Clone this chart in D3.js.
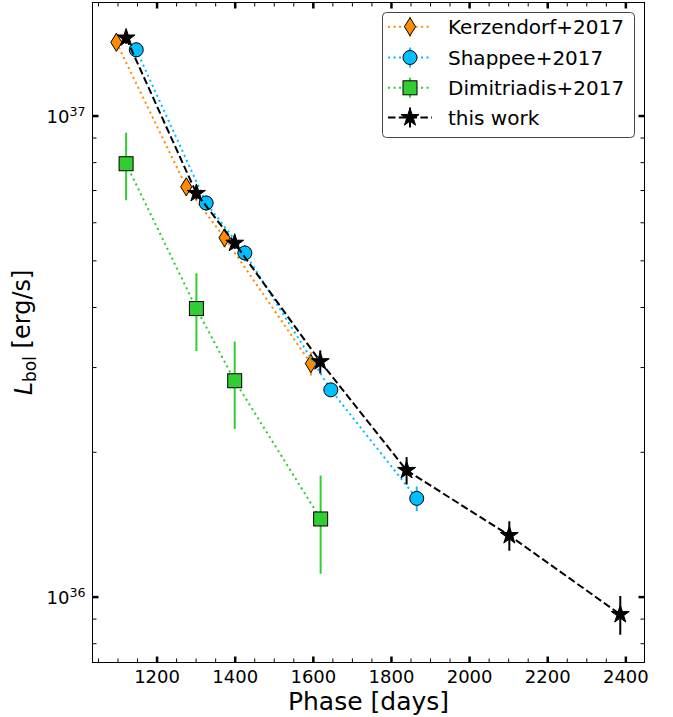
<!DOCTYPE html>
<html><head><meta charset="utf-8">
<script src="https://cdn.jsdelivr.net/npm/d3@7"></script>
<style>
body{margin:0;background:#fff}
svg{display:block;font-family:'DejaVu Sans',sans-serif}
</style>
</head><body>
<svg id="c" width="673" height="717"></svg>
<script>
// ---- data ----
const kerzPhase = [1097, 1276, 1374, 1595];
const kerzLum   = [1.42e37, 7.11e36, 5.57e36, 3.05e36];
const kerzErr   = [0.06e37, 0.30e36, 0.25e36, 0.17e36];

const shapPhase = [1148, 1327, 1426, 1646, 1866];
const shapLum   = [1.37e37, 6.58e36, 5.18e36, 2.69e36, 1.60e36];
const shapErr   = [0.05e37, 0.25e36, 0.20e36, 0.08e36, 0.094e36];

const dimiPhase = [1122, 1302, 1400, 1620];
const dimiLum   = [7.94e36, 3.97e36, 2.81e36, 1.45e36];
const dimiErr   = [1.27e36, 0.73e36, 0.58e36, 0.335e36];

const workPhase = [1122, 1302, 1400, 1619, 1840, 2103, 2387];
const workLum   = [1.45e37, 6.89e36, 5.43e36, 3.08e36, 1.83e36, 1.34e36, 9.18e35];
const workErr   = [0.04e37, 0.20e36, 0.15e36, 0.17e36, 0.12e36, 0.095e36, 0.085e36];

const seriesNames = ["Kerzendorf+2017", "Shappee+2017", "Dimitriadis+2017", "this work"];
const xMajorTicks = [1200, 1400, 1600, 1800, 2000, 2200, 2400];
const xMinorTicks = d3.range(1050, 2450, 50).filter(v => v % 200 !== 0);
const yMajorTicks = [1e36, 1e37];
const yTickExp    = ["36", "37"];
const yMinorTicks = [8e35, 9e35, 2e36, 3e36, 4e36, 5e36, 6e36, 7e36, 8e36, 9e36];
const xDomain = [1036, 2449];
const yDomain = [Math.pow(10, 35.863), Math.pow(10, 37.235)];

// ---- layout ----
const L = 92.5, R = 644.5, T = 2.5, B = 662.5;
const svg = d3.select("#c");
const x = d3.scaleLinear().domain(xDomain).range([L, R]);
const y = d3.scaleLog().domain(yDomain).range([B, T]);

const series = [
  {name: seriesNames[0], px: kerzPhase, ly: kerzLum, e: kerzErr, color: "#ff8c00", dash: "2.1,3.4", sym: "thindiamond"},
  {name: seriesNames[1], px: shapPhase, ly: shapLum, e: shapErr, color: "#00bfff", dash: "2.1,3.4", sym: "circle"},
  {name: seriesNames[2], px: dimiPhase, ly: dimiLum, e: dimiErr, color: "#32cd32", dash: "2.1,3.4", sym: "square"},
  {name: seriesNames[3], px: workPhase, ly: workLum, e: workErr, color: "#000000", dash: "7.5,3.3", sym: "star"}
];

function drawMarker(g, sym, cx, cy, color) {
  if (sym === "thindiamond") {
    g.append("path").attr("d", `M${cx},${cy-9}L${cx+5.6},${cy}L${cx},${cy+9}L${cx-5.6},${cy}Z`)
      .attr("fill", color).attr("stroke", "#000").attr("stroke-width", 1);
  } else if (sym === "circle") {
    g.append("circle").attr("cx", cx).attr("cy", cy).attr("r", 7)
      .attr("fill", color).attr("stroke", "#000").attr("stroke-width", 1);
  } else if (sym === "square") {
    g.append("rect").attr("x", cx-7).attr("y", cy-7).attr("width", 14).attr("height", 14)
      .attr("fill", color).attr("stroke", "#000").attr("stroke-width", 1);
  } else {
    g.append("path").attr("d", d3.symbol(d3.symbolStar, 100)())
      .attr("transform", `translate(${cx},${cy})`)
      .attr("fill", "#000").attr("stroke", "#000").attr("stroke-width", 1);
  }
}

const clip = svg.append("clipPath").attr("id", "clip").append("rect")
  .attr("x", L).attr("y", T).attr("width", R-L).attr("height", B-T);
const plot = svg.append("g").attr("clip-path", "url(#clip)");

series.forEach(s => {
  const g = plot.append("g");
  const pts = s.px.map((p, i) => ({x: p, y: s.ly[i], e: s.e[i]}));
  g.selectAll("line.err").data(pts).enter().append("line")
    .attr("x1", d => x(d.x)).attr("x2", d => x(d.x))
    .attr("y1", d => y(d.y + d.e)).attr("y2", d => y(d.y - d.e))
    .attr("stroke", s.color).attr("stroke-width", 2);
  g.append("path").datum(pts)
    .attr("d", d3.line().x(d => x(d.x)).y(d => y(d.y)))
    .attr("fill", "none").attr("stroke", s.color).attr("stroke-width", 2)
    .attr("stroke-dasharray", s.dash);
  pts.forEach(d => drawMarker(g, s.sym, x(d.x), y(d.y), s.color));
});

// ---- axes (inward ticks on all sides) ----
function styleTicks(g, w) {
  g.select(".domain").remove();
  g.selectAll(".tick line").attr("stroke", "#000").attr("stroke-width", w);
}
const gxb = svg.append("g").attr("transform", `translate(0,${B})`)
  .call(d3.axisBottom(x).tickValues(xMajorTicks).tickSizeInner(-6).tickSizeOuter(0).tickPadding(8).tickFormat(d3.format("d")));
styleTicks(gxb, 2.5);
gxb.selectAll(".tick text").attr("font-size", "18px").attr("font-family", "DejaVu Sans").attr("fill", "#000");
const gxbm = svg.append("g").attr("transform", `translate(0,${B})`)
  .call(d3.axisBottom(x).tickValues(xMinorTicks).tickSizeInner(-4).tickSizeOuter(0).tickFormat(""));
styleTicks(gxbm, 1);
const gxt = svg.append("g").attr("transform", `translate(0,${T})`)
  .call(d3.axisTop(x).tickValues(xMajorTicks).tickSizeInner(-6).tickSizeOuter(0).tickFormat(""));
styleTicks(gxt, 2.5);
const gxtm = svg.append("g").attr("transform", `translate(0,${T})`)
  .call(d3.axisTop(x).tickValues(xMinorTicks).tickSizeInner(-4).tickSizeOuter(0).tickFormat(""));
styleTicks(gxtm, 1);
const gyl = svg.append("g").attr("transform", `translate(${L},0)`)
  .call(d3.axisLeft(y).tickValues(yMajorTicks).tickSizeInner(-6).tickSizeOuter(0).tickPadding(7));
styleTicks(gyl, 2.5);
gyl.selectAll(".tick text").each(function(d, i) {
  const t = d3.select(this);
  t.text("").attr("font-size", "18px").attr("font-family", "DejaVu Sans").attr("fill", "#000").attr("dy", "0.36em");
  t.append("tspan").text("10");
  t.append("tspan").attr("dy", "-0.55em").attr("font-size", "12.6px").text(yTickExp[i]);
});
const gylm = svg.append("g").attr("transform", `translate(${L},0)`)
  .call(d3.axisLeft(y).tickValues(yMinorTicks).tickSizeInner(-4).tickSizeOuter(0).tickFormat(""));
styleTicks(gylm, 1);
const gyr = svg.append("g").attr("transform", `translate(${R},0)`)
  .call(d3.axisRight(y).tickValues(yMajorTicks).tickSizeInner(-6).tickSizeOuter(0).tickFormat(""));
styleTicks(gyr, 2.5);
const gyrm = svg.append("g").attr("transform", `translate(${R},0)`)
  .call(d3.axisRight(y).tickValues(yMinorTicks).tickSizeInner(-4).tickSizeOuter(0).tickFormat(""));
styleTicks(gyrm, 1);

svg.append("rect").attr("x", L).attr("y", T).attr("width", R-L).attr("height", B-T)
  .attr("fill", "none").attr("stroke", "#000").attr("stroke-width", 1);

svg.append("text").attr("x", (L+R)/2).attr("y", 710).attr("text-anchor", "middle")
  .attr("font-size", "25px").text("Phase [days]");
const yl = svg.append("text").attr("transform", `translate(32,${(T+B)/2}) rotate(-90)`)
  .attr("text-anchor", "middle").attr("font-size", "24px");
yl.append("tspan").attr("font-style", "italic").text("L");
yl.append("tspan").attr("font-size", "17px").attr("dy", "0.22em").text("bol");
yl.append("tspan").attr("dy", "-0.22em").text("\u00a0[erg/s]");

const lg = svg.append("g");
lg.append("rect").attr("x", 382.5).attr("y", 12.5).attr("width", 252).attr("height", 125).attr("rx", 4)
  .attr("fill", "#fff").attr("stroke", "#444").attr("stroke-width", 1);
const rowY = [26.7, 57.5, 87.8, 117.5];
series.forEach((s, i) => {
  const cy = rowY[i];
  lg.append("line").attr("x1", 388).attr("x2", 432).attr("y1", cy).attr("y2", cy)
    .attr("stroke", s.color).attr("stroke-width", 2).attr("stroke-dasharray", s.dash);
  lg.append("line").attr("x1", 410).attr("x2", 410).attr("y1", cy-10).attr("y2", cy+10)
    .attr("stroke", s.color).attr("stroke-width", 2);
  drawMarker(lg, s.sym, 410, cy, s.color);
  lg.append("text").attr("x", 448).attr("y", cy).attr("dy", "0.36em")
    .attr("font-size", "20px").attr("fill", "#000").text(s.name);
});
</script>
</body></html>
